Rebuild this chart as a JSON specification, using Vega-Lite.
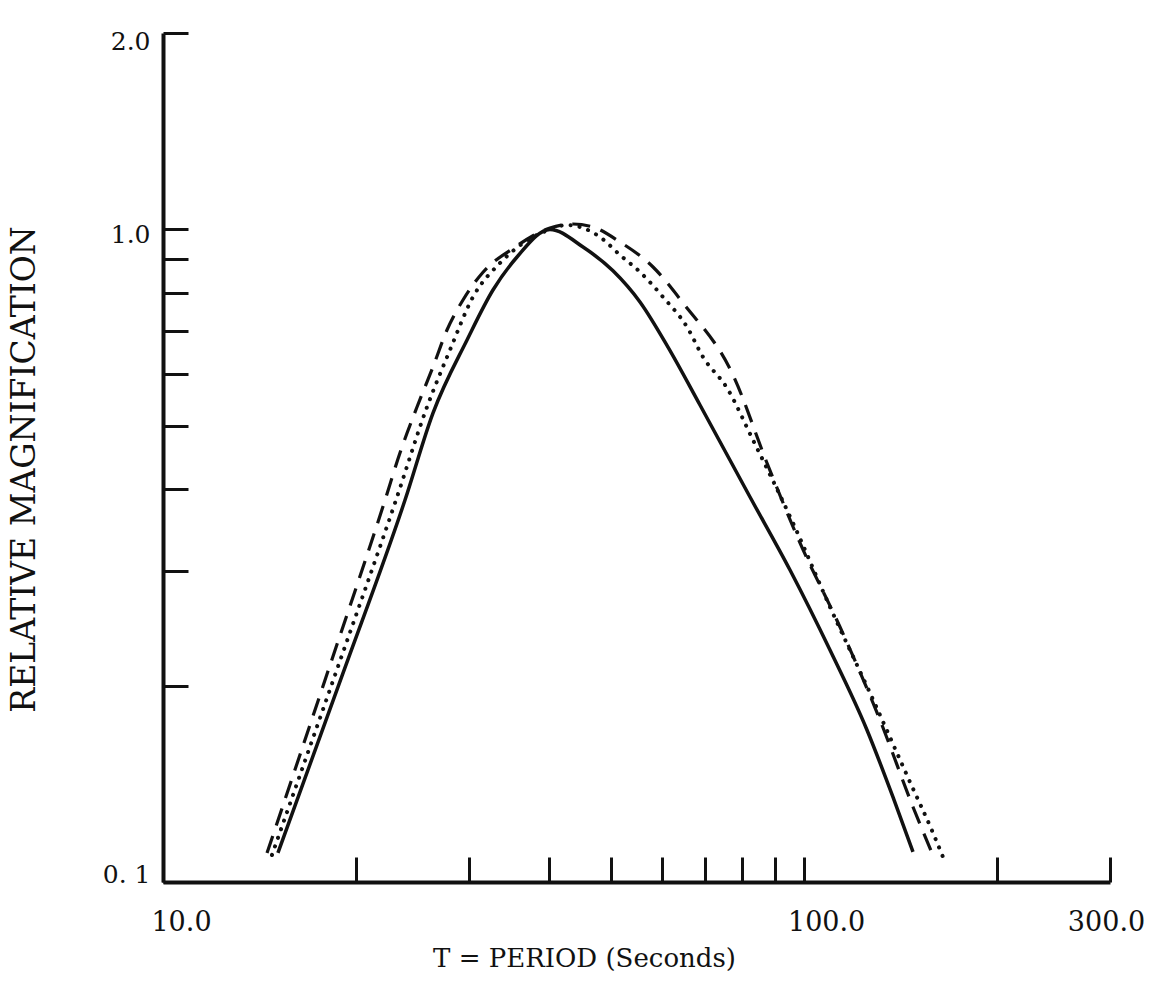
{
  "$schema": "https://vega.github.io/schema/vega-lite/v6.json",
  "autosize": {"type": "none"},
  "padding": {"left": 163, "top": 33, "right": 57, "bottom": 113},
  "width": 947,
  "height": 849,
  "background": "white",
  "config": {"view": {"stroke": null}},
  "data": {"values": [
    {"s": "solid", "T": 15.11, "M": 0.1108},
    {"s": "solid", "T": 19.02, "M": 0.2069},
    {"s": "solid", "T": 23.85, "M": 0.3849},
    {"s": "solid", "T": 26.37, "M": 0.5232},
    {"s": "solid", "T": 29.80, "M": 0.677},
    {"s": "solid", "T": 32.71, "M": 0.8076},
    {"s": "solid", "T": 35.66, "M": 0.9073},
    {"s": "solid", "T": 40.14, "M": 1.0},
    {"s": "solid", "T": 45.20, "M": 0.9399},
    {"s": "solid", "T": 50.34, "M": 0.8640},
    {"s": "solid", "T": 55.46, "M": 0.7740},
    {"s": "solid", "T": 61.33, "M": 0.6600},
    {"s": "solid", "T": 68.80, "M": 0.5382},
    {"s": "solid", "T": 82.34, "M": 0.3890},
    {"s": "solid", "T": 95.06, "M": 0.3007},
    {"s": "solid", "T": 109.74, "M": 0.2267},
    {"s": "solid", "T": 125.33, "M": 0.1710},
    {"s": "solid", "T": 137.57, "M": 0.1350},
    {"s": "solid", "T": 147.86, "M": 0.1112},
    {"s": "dashed", "T": 14.53, "M": 0.1108},
    {"s": "dashed", "T": 17.96, "M": 0.2061},
    {"s": "dashed", "T": 22.20, "M": 0.3849},
    {"s": "dashed", "T": 23.42, "M": 0.4544},
    {"s": "dashed", "T": 24.90, "M": 0.5344},
    {"s": "dashed", "T": 26.37, "M": 0.6155},
    {"s": "dashed", "T": 27.73, "M": 0.7013},
    {"s": "dashed", "T": 29.37, "M": 0.7796},
    {"s": "dashed", "T": 31.56, "M": 0.8600},
    {"s": "dashed", "T": 35.15, "M": 0.935},
    {"s": "dashed", "T": 40.14, "M": 1.0051},
    {"s": "dashed", "T": 43.60, "M": 1.0194},
    {"s": "dashed", "T": 46.85, "M": 1.0086},
    {"s": "dashed", "T": 51.62, "M": 0.9566},
    {"s": "dashed", "T": 58.12, "M": 0.8759},
    {"s": "dashed", "T": 64.73, "M": 0.7714},
    {"s": "dashed", "T": 77.46, "M": 0.5983},
    {"s": "dashed", "T": 87.52, "M": 0.4386},
    {"s": "dashed", "T": 98.53, "M": 0.3308},
    {"s": "dashed", "T": 113.76, "M": 0.2459},
    {"s": "dashed", "T": 131.33, "M": 0.1771},
    {"s": "dashed", "T": 147.86, "M": 0.1303},
    {"s": "dashed", "T": 158.30, "M": 0.1108},
    {"s": "dotted", "T": 14.79, "M": 0.1100},
    {"s": "dotted", "T": 18.48, "M": 0.2054},
    {"s": "dotted", "T": 23.09, "M": 0.3849},
    {"s": "dotted", "T": 25.81, "M": 0.5344},
    {"s": "dotted", "T": 28.03, "M": 0.6535},
    {"s": "dotted", "T": 30.445, "M": 0.7879},
    {"s": "dotted", "T": 33.55, "M": 0.8883},
    {"s": "dotted", "T": 37.77, "M": 0.9737},
    {"s": "dotted", "T": 40.14, "M": 1.0},
    {"s": "dotted", "T": 42.67, "M": 1.0158},
    {"s": "dotted", "T": 48.04, "M": 0.9737},
    {"s": "dotted", "T": 51.62, "M": 0.9138},
    {"s": "dotted", "T": 55.46, "M": 0.8606},
    {"s": "dotted", "T": 60.24, "M": 0.7879},
    {"s": "dotted", "T": 65.67, "M": 0.7087},
    {"s": "dotted", "T": 69.55, "M": 0.6376},
    {"s": "dotted", "T": 75.81, "M": 0.5715},
    {"s": "dotted", "T": 83.23, "M": 0.4757},
    {"s": "dotted", "T": 96.09, "M": 0.3549},
    {"s": "dotted", "T": 109.74, "M": 0.2639},
    {"s": "dotted", "T": 126.70, "M": 0.1948},
    {"s": "dotted", "T": 146.27, "M": 0.1423},
    {"s": "dotted", "T": 158.87, "M": 0.1189},
    {"s": "dotted", "T": 164.68, "M": 0.1092}
  ]},
  "encoding": {
    "x": {
      "field": "T", "type": "quantitative",
      "scale": {"type": "log", "domain": [10, 300], "nice": false},
      "axis": {
        "values": [10, 20, 30, 40, 50, 60, 70, 80, 90, 100, 200, 300],
        "labelExpr": "datum.value == 10 ? '10.0' : datum.value == 100 ? '100.0' : datum.value == 300 ? '300.0' : ''",
        "grid": false,
        "domainColor": "#111", "domainWidth": 4,
        "tickColor": "#111", "tickWidth": 3, "tickSize": -25,
        "labelPadding": 65, "labelBaseline": "middle", "labelAlign": "center",
        "labelFont": "DejaVu Serif", "labelFontSize": 27, "labelColor": "#111",
        "labelOverlap": false, "labelBound": false, "labelFlush": false,
        "labelOffset": {"condition": [{"test": "datum.value == 10", "value": 18}, {"test": "datum.value == 100", "value": 22}], "value": -4},
        "title": "T = PERIOD (Seconds)",
        "titleFont": "DejaVu Serif", "titleFontSize": 26, "titleFontWeight": "normal", "titleColor": "#111",
        "titleX": 421, "titleY": 76, "titleBaseline": "middle", "titleAlign": "center"
      }
    },
    "y": {
      "field": "M", "type": "quantitative",
      "scale": {"type": "log", "domain": [0.1, 2], "nice": false},
      "axis": {
        "values": [0.1, 0.2, 0.3, 0.4, 0.5, 0.6, 0.7, 0.8, 0.9, 1, 2],
        "labelExpr": "datum.value == 0.1 ? '0. 1' : datum.value == 1 ? '1.0' : datum.value == 2 ? '2.0' : ''",
        "grid": false,
        "domainColor": "#111", "domainWidth": 4,
        "tickColor": "#111", "tickWidth": 3, "tickSize": -25,
        "labelPadding": 38, "labelBaseline": "middle",
        "labelFont": "DejaVu Serif", "labelFontSize": 25, "labelColor": "#111",
        "labelOverlap": false, "labelBound": false, "labelFlush": false,
        "labelOffset": {"condition": [{"test": "datum.value == 2", "value": 8}, {"test": "datum.value == 1", "value": 5}, {"test": "datum.value == 0.1", "value": -8}], "value": 0},
        "title": "RELATIVE MAGNIFICATION",
        "titleFont": "DejaVu Serif", "titleFontSize": 33, "titleFontWeight": "normal", "titleColor": "#111",
        "titleX": -139, "titleY": 436, "titleBaseline": "middle", "titleAlign": "center", "titleAngle": -90
      }
    }
  },
  "layer": [
    {
      "transform": [{"filter": "datum.s == 'solid'"}],
      "mark": {"type": "line", "color": "#111", "strokeWidth": 3.5, "interpolate": "monotone"}
    },
    {
      "transform": [{"filter": "datum.s == 'dashed'"}],
      "mark": {"type": "line", "color": "#111", "strokeWidth": 3.2, "strokeDash": [18, 11], "interpolate": "monotone"}
    },
    {
      "transform": [{"filter": "datum.s == 'dotted'"}],
      "mark": {"type": "line", "color": "#111", "strokeWidth": 4, "strokeDash": [0.1, 9], "strokeCap": "round", "interpolate": "monotone"}
    }
  ]
}
